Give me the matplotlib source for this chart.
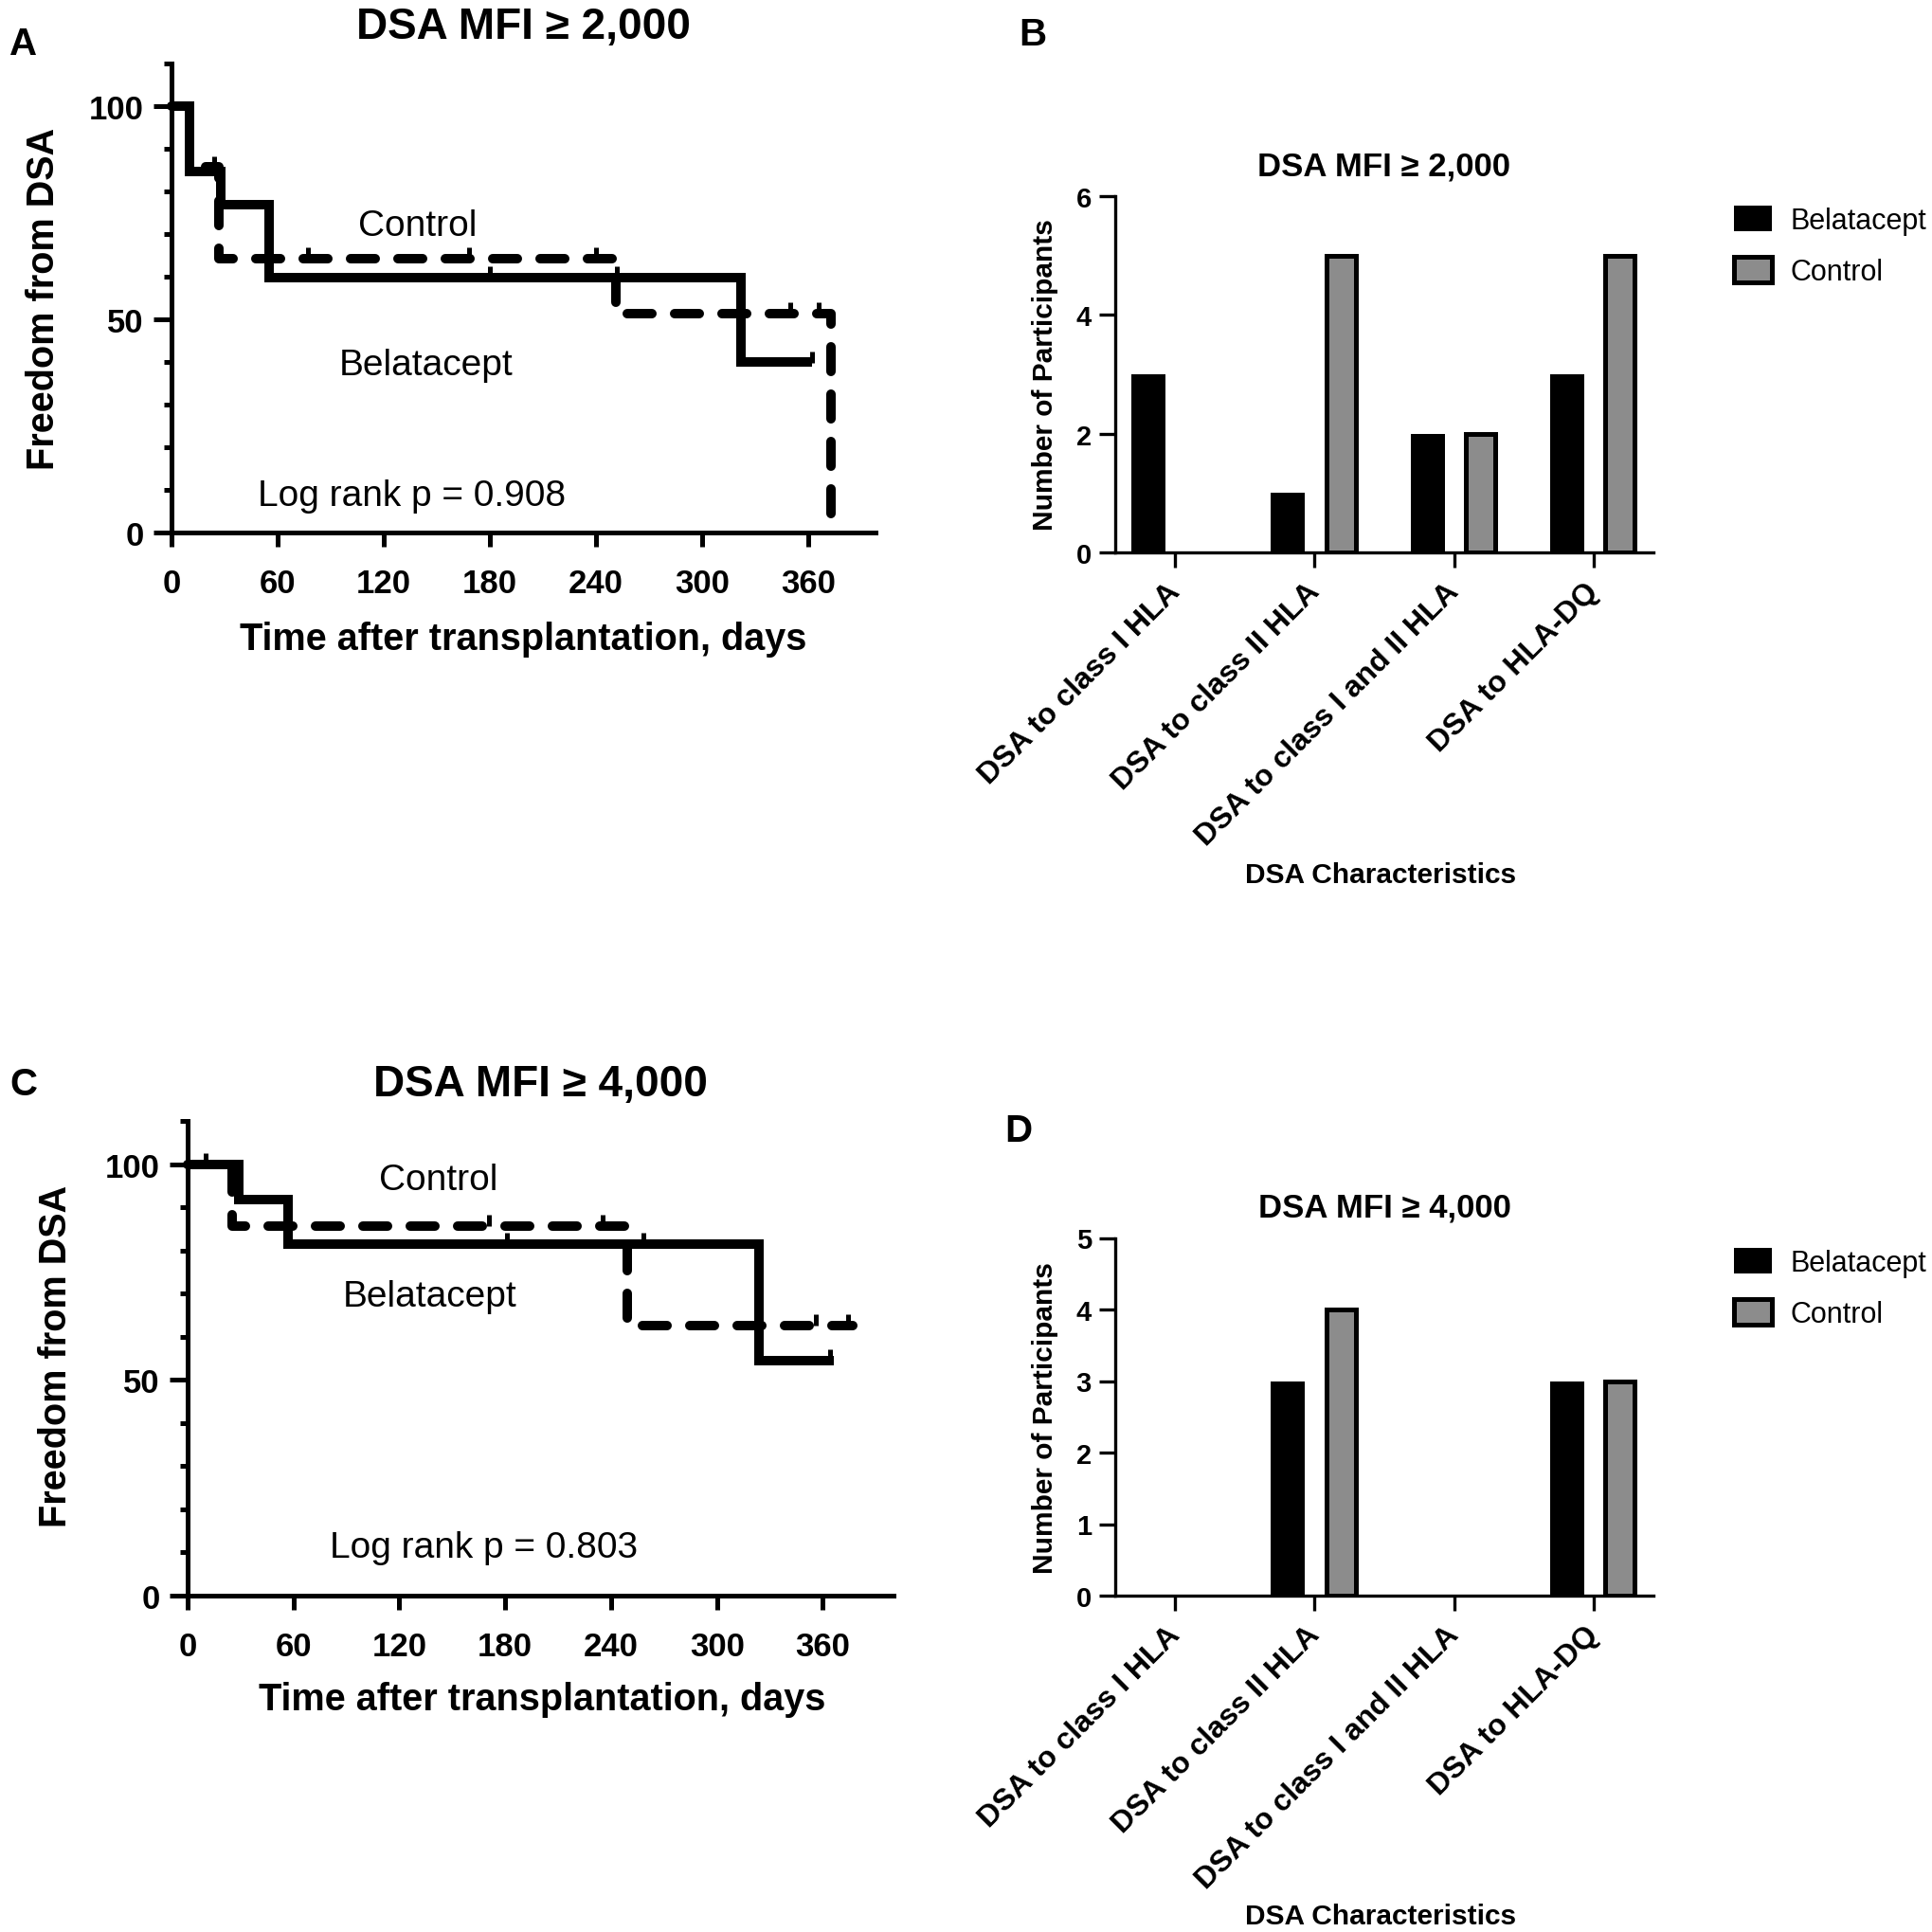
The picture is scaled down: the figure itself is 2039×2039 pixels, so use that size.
import matplotlib
matplotlib.use('Agg')
import matplotlib.pyplot as plt
import matplotlib.transforms as mtransforms
import numpy as np
from matplotlib.ticker import MultipleLocator, FixedLocator

plt.rcParams['font.family'] = ['Liberation Sans', 'DejaVu Sans']

# ---------------- data ----------------
km_xticks = [0, 60, 120, 180, 240, 300, 360]

# Panel A (DSA MFI >= 2,000)
a_bel_t = [0, 10, 28, 55, 322, 362]
a_bel_s = [100, 84.6, 76.9, 59.8, 39.9, 39.9]
a_ctl_t = [0, 10, 27, 251, 373]
a_ctl_s = [100, 85.7, 64.3, 51.4, 0]
a_bel_cens_t = [180, 252, 362]
a_bel_cens_s = [59.8, 59.8, 39.9]
a_ctl_cens_t = [24, 77, 168, 240, 350, 366]
a_ctl_cens_s = [85.7, 64.3, 64.3, 64.3, 51.4, 51.4]

# Panel C (DSA MFI >= 4,000)
c_bel_t = [0, 29, 57, 324, 366]
c_bel_s = [100, 91.7, 81.5, 54.5, 54.5]
c_ctl_t = [0, 25, 249, 377]
c_ctl_s = [100, 85.7, 62.5, 62.5]
c_bel_cens_t = [181, 258, 364]
c_bel_cens_s = [81.5, 81.5, 54.5]
c_ctl_cens_t = [10, 171, 235, 356, 374]
c_ctl_cens_s = [100, 85.7, 85.7, 62.5, 62.5]

# Bar panels
categories = ["DSA to class I HLA", "DSA to class II HLA",
              "DSA to class I and II HLA", "DSA to HLA-DQ"]
b_bel = [3, 1, 2, 3]
b_ctl = [0, 5, 2, 5]
d_bel = [0, 3, 0, 3]
d_ctl = [0, 4, 0, 3]

# ---------------- figure ----------------
W = H = 2040.0
fig = plt.figure(figsize=(20.4, 20.4), dpi=100)


def ax_from_px(left, right, top, bottom):
    return fig.add_axes([left / W, 1 - bottom / H, (right - left) / W, (bottom - top) / H])


def km_panel(ax, bel_t, bel_s, ctl_t, ctl_s, bct, bcs, cct, ccs, xmax,
             title, pval, ctl_pos, bel_pos, p_pos, xl_coords, yl_coords):
    lw = 7.2
    ax.step(bel_t, bel_s, where='post', color='black', lw=lw,
            solid_capstyle='butt', solid_joinstyle='miter', clip_on=False, zorder=3)
    ax.step(ctl_t, ctl_s, where='post', color='black', lw=lw,
            linestyle=(0, (2.6, 2.4)), dash_capstyle='round', clip_on=False, zorder=3)
    ax.plot(bct, np.array(bcs) + 1.3, ls='none', marker='|', ms=8, mew=3.6,
            color='black', clip_on=False, zorder=3)
    ax.plot(cct, np.array(ccs) + 1.3, ls='none', marker='|', ms=8, mew=3.6,
            color='black', clip_on=False, zorder=3)
    ax.set_xlim(0, xmax)
    ax.set_ylim(0, 110)
    for s in ['top', 'right']:
        ax.spines[s].set_visible(False)
    for s in ['left', 'bottom']:
        ax.spines[s].set_linewidth(3.6)
    ax.xaxis.set_major_locator(FixedLocator(km_xticks))
    ax.yaxis.set_major_locator(FixedLocator([0, 50, 100]))
    ax.yaxis.set_minor_locator(MultipleLocator(10))
    ax.tick_params(axis='x', which='major', length=11, width=3.6, pad=16,
                   labelsize=25)
    ax.tick_params(axis='y', which='major', length=14, width=3.6, pad=7,
                   labelsize=25)
    ax.tick_params(axis='y', which='minor', length=6, width=3.6)
    for lab in ax.get_xticklabels() + ax.get_yticklabels():
        lab.set_fontweight('bold')
    ax.set_xlabel('Time after transplantation, days', fontsize=28.5,
                  fontweight='bold', va='center')
    ax.xaxis.set_label_coords(*xl_coords)
    ax.set_ylabel('Freedom from DSA', fontsize=28.5, fontweight='bold',
                  va='center', ha='center')
    ax.yaxis.set_label_coords(*yl_coords)
    ax.set_title(title, fontsize=33, fontweight='bold', y=1.078, va='center', pad=0)
    ax.text(ctl_pos[0], ctl_pos[1], 'Control', fontsize=28, ha='center', va='center')
    ax.text(bel_pos[0], bel_pos[1], 'Belatacept', fontsize=28, ha='center', va='center')
    ax.text(p_pos[0], p_pos[1], 'Log rank p = ' + pval, fontsize=28,
            ha='center', va='center')


def bar_panel(ax, bel, ctl, ymax, title, leg_top, xl_y):
    x = np.arange(len(categories))
    ax.bar(x - 0.19, bel, width=0.245, color='black', label='Belatacept', zorder=3)
    bars = ax.bar(x + 0.19, ctl, width=0.21, color='#8c8c8c', edgecolor='black',
                  linewidth=3.6, label='Control', zorder=3)
    ax.legend(loc='upper left', bbox_to_anchor=(1830 / W, 1 - leg_top / H),
              bbox_transform=fig.transFigure, frameon=False, fontsize=22,
              borderpad=0, borderaxespad=0, handlelength=1.3, handleheight=1.0,
              handletextpad=0.65, labelspacing=0.75)
    for p, h in zip(bars, ctl):
        if h == 0:
            p.set_linewidth(0)
    ax.set_xlim(-0.43, 3.43)
    ax.set_ylim(0, ymax)
    for s in ['top', 'right']:
        ax.spines[s].set_visible(False)
    for s in ['left', 'bottom']:
        ax.spines[s].set_linewidth(2.4)
    ax.set_yticks(range(0, ymax + 1, 2 if ymax == 6 else 1))
    ax.set_xticks(x)
    ax.set_xticklabels(categories, rotation=45, ha='right', va='top',
                       rotation_mode='anchor', fontsize=23, fontweight='bold')
    ax.tick_params(axis='x', length=11.5, width=2.4, pad=7)
    shift = mtransforms.ScaledTranslation(-10 / 100, 0, fig.dpi_scale_trans)
    for lab in ax.get_xticklabels():
        lab.set_transform(lab.get_transform() + shift)
    ax.tick_params(axis='y', length=12, width=2.4, pad=6, labelsize=21)
    for lab in ax.get_yticklabels():
        lab.set_fontweight('bold')
    ax.set_ylabel('Number of Participants', fontsize=21.5, fontweight='bold',
                  va='center', ha='center')
    ax.yaxis.set_label_coords(-0.130, 0.5)
    ax.set_xlabel('DSA Characteristics', fontsize=21.5, fontweight='bold', va='center')
    ax.xaxis.set_label_coords(0.493, xl_y)
    ax.set_title(title, fontsize=25, fontweight='bold', y=1.086, va='center', pad=0)


# Panel A
axA = ax_from_px(181, 924, 68, 563)
km_panel(axA, a_bel_t, a_bel_s, a_ctl_t, a_ctl_s, a_bel_cens_t, a_bel_cens_s,
         a_ctl_cens_t, a_ctl_cens_s, 398, 'DSA MFI ≥ 2,000', '0.908',
         (139, 72), (144, 39.4), (136, 8.6), (0.50, -0.226), (-0.182, 0.5))

# Panel C
axC = ax_from_px(198, 943, 1184, 1685)
km_panel(axC, c_bel_t, c_bel_s, c_ctl_t, c_ctl_s, c_bel_cens_t, c_bel_cens_s,
         c_ctl_cens_t, c_ctl_cens_s, 400, 'DSA MFI ≥ 4,000', '0.803',
         (142, 96.3), (137, 69.4), (168, 11.1), (0.502, -0.218), (-0.187, 0.507))

# Panel B
axB = ax_from_px(1177, 1745, 208, 584)
bar_panel(axB, b_bel, b_ctl, 6, 'DSA MFI ≥ 2,000', 218, -0.904)

# Panel D
axD = ax_from_px(1177, 1745, 1307.5, 1685)
bar_panel(axD, d_bel, d_ctl, 5, 'DSA MFI ≥ 4,000', 1318, -0.895)

# panel letters
for letter, (px, py) in {'A': (25, 47), 'B': (1090, 37), 'C': (25, 1145),
                         'D': (1075, 1194)}.items():
    fig.text(px / W, 1 - py / H, letter, fontsize=29, fontweight='bold',
             ha='center', va='center')

fig.savefig('out.png', dpi=100)
